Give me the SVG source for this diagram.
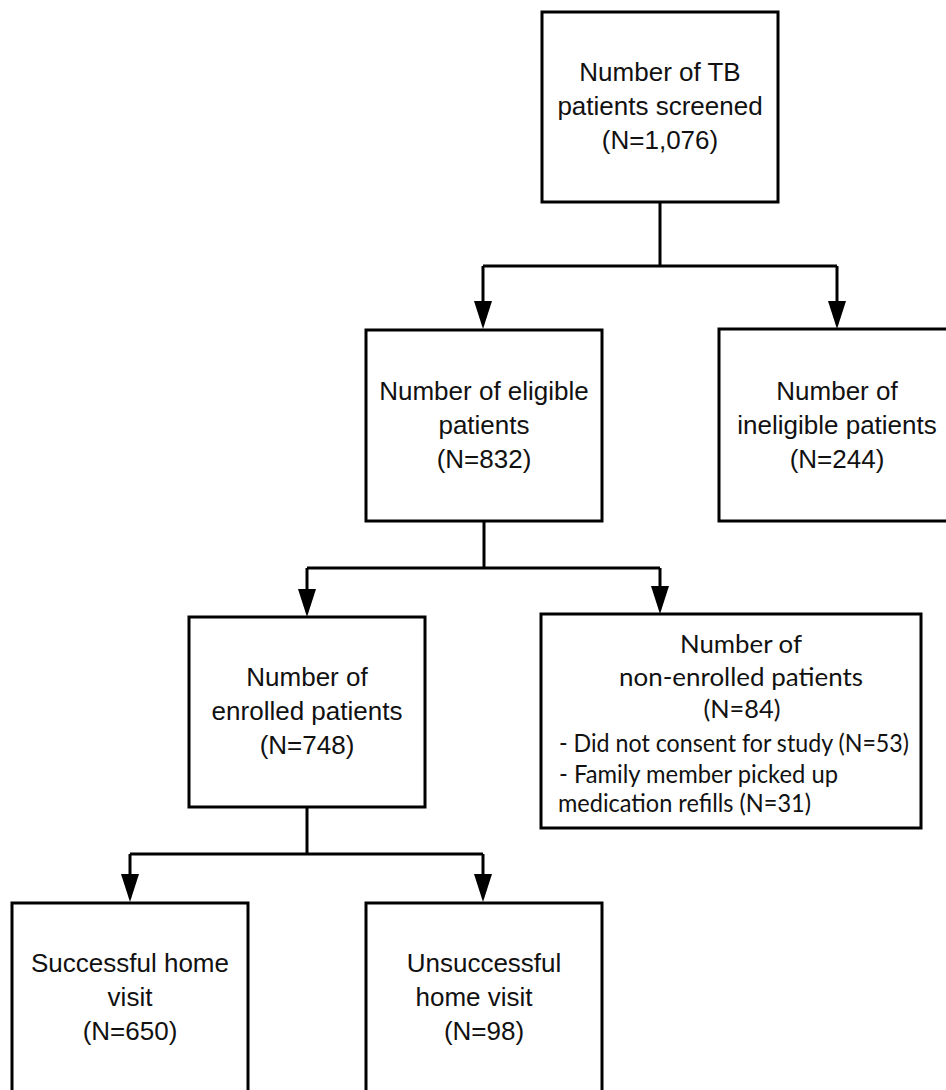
<svg xmlns="http://www.w3.org/2000/svg" width="946" height="1090" viewBox="0 0 946 1090">
  <style>
    .box { fill: #ffffff; stroke: #000000; stroke-width: 3; }
    .t { font-family: "Liberation Sans", Arial, sans-serif; font-size: 26px; fill: #111111; text-anchor: middle; }
    .c { font-family: Lato, "Open Sans", sans-serif; font-size: 25px; fill: #111111; }
    .mid { text-anchor: middle; }
    .conn { fill: none; stroke: #000000; stroke-width: 3; }
  </style>
  <defs>
    <marker id="arrow" markerUnits="userSpaceOnUse" markerWidth="28" markerHeight="18" refX="0" refY="9" orient="auto" viewBox="0 0 28 18">
      <path d="M0,0 L28,9 L0,18 z" fill="#000000"/>
    </marker>
  </defs>
  <rect x="0" y="0" width="946" height="1090" fill="#ffffff"/>

  <g id="connectors">
    <path class="conn" d="M660,202 V266 M483,266 H837"/>
    <path class="conn" d="M483,266 V301" marker-end="url(#arrow)"/>
    <path class="conn" d="M837,266 V301" marker-end="url(#arrow)"/>
    <path class="conn" d="M484,521 V568 M307,568 H660"/>
    <path class="conn" d="M307,568 V589" marker-end="url(#arrow)"/>
    <path class="conn" d="M660,568 V586" marker-end="url(#arrow)"/>
    <path class="conn" d="M307,807 V854 M130,854 H483"/>
    <path class="conn" d="M130,854 V874" marker-end="url(#arrow)"/>
    <path class="conn" d="M483,854 V874" marker-end="url(#arrow)"/>
  </g>

  <g id="screened">
    <rect class="box" x="542" y="12" width="236" height="190"/>
    <text class="t" x="660" y="81">Number of TB</text>
    <text class="t" x="660" y="115">patients screened</text>
    <text class="t" x="660" y="149">(N=1,076)</text>
  </g>

  <g id="eligible">
    <rect class="box" x="366" y="330" width="236" height="191"/>
    <text class="t" x="484" y="400">Number of eligible</text>
    <text class="t" x="484" y="434">patients</text>
    <text class="t" x="484" y="468">(N=832)</text>
  </g>

  <g id="ineligible">
    <rect class="box" x="719" y="329" width="236" height="192"/>
    <text class="t" x="837" y="400">Number of</text>
    <text class="t" x="837" y="434">ineligible patients</text>
    <text class="t" x="837" y="468">(N=244)</text>
  </g>

  <g id="enrolled">
    <rect class="box" x="189" y="617" width="236" height="190"/>
    <text class="t" x="307" y="686">Number of</text>
    <text class="t" x="307" y="720">enrolled patients</text>
    <text class="t" x="307" y="754">(N=748)</text>
  </g>

  <g id="non-enrolled">
    <rect class="box" x="541" y="614" width="380" height="214"/>
    <text class="c mid" x="741" y="653" textLength="122" lengthAdjust="spacingAndGlyphs">Number of</text>
    <text class="c mid" x="741" y="686" textLength="244" lengthAdjust="spacingAndGlyphs">non-enrolled patients</text>
    <text class="c mid" x="742" y="718" textLength="77" lengthAdjust="spacingAndGlyphs">(N=84)</text>
    <text class="c" x="559" y="752" textLength="350" lengthAdjust="spacingAndGlyphs">- Did not consent for study (N=53)</text>
    <text class="c" x="559" y="783" textLength="279" lengthAdjust="spacingAndGlyphs">- Family member picked up</text>
    <text class="c" x="558" y="812" textLength="253" lengthAdjust="spacingAndGlyphs">medication refills (N=31)</text>
  </g>

  <g id="successful">
    <rect class="box" x="12" y="903" width="236" height="200"/>
    <text class="t" x="130" y="972">Successful home</text>
    <text class="t" x="130" y="1006">visit</text>
    <text class="t" x="130" y="1040">(N=650)</text>
  </g>

  <g id="unsuccessful">
    <rect class="box" x="366" y="903" width="236" height="200"/>
    <text class="t" x="484" y="972">Unsuccessful</text>
    <text class="t" x="474" y="1006">home visit</text>
    <text class="t" x="484" y="1040">(N=98)</text>
  </g>
</svg>
